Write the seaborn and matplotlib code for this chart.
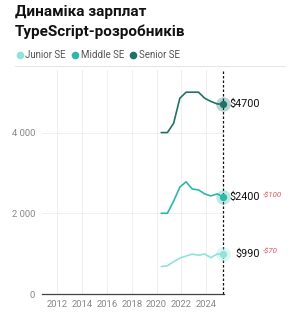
import pandas as pd
import matplotlib.pyplot as plt
import seaborn as sns
from matplotlib.lines import Line2D

# --- DATA ---
years = [2020.37, 2020.87, 2021.37, 2021.87, 2022.37, 2022.87,
         2023.37, 2023.87, 2024.37, 2024.87, 2025.37]
junior = [680, 700, 800, 890, 940, 990, 960, 990, 900, 990, 990]
middle = [2000, 2000, 2300, 2650, 2780, 2600, 2580, 2480, 2430, 2480, 2400]
senior = [4000, 4000, 4230, 4850, 5000, 5000, 5000, 4850, 4770, 4710, 4700]
levels = ["Junior SE", "Middle SE", "Senior SE"]
last_labels = ["$990", "$2400", "$4700"]
changes = ["-$70", "-$100", ""]
x_ticks = [2012, 2014, 2016, 2018, 2020, 2022, 2024]
y_ticks = [0, 2000, 4000]
y_tick_labels = ["0", "2 000", "4 000"]

colors = {"Junior SE": "#8fe3db", "Middle SE": "#2db8a8", "Senior SE": "#1f7366"}

rows = []
for name, vals in zip(levels, [junior, middle, senior]):
    for x, v in zip(years, vals):
        rows.append({"year": x, "salary": v, "level": name})
df = pd.DataFrame(rows)

# --- PLOT ---
sns.set_style("white")
plt.rcParams["font.family"] = ["Roboto", "DejaVu Sans"]

fig = plt.figure(figsize=(2.96, 3.2), dpi=100)
ax = fig.add_axes([42 / 296, 1 - 294 / 320, (224 - 42) / 296, (294 - 70) / 320])

sns.lineplot(data=df, x="year", y="salary", hue="level", palette=colors,
             linewidth=1.2, legend=False, ax=ax)

ax.set_xlim(2010.79, 2025.42)
ax.set_ylim(0, 5550)
ax.set_xticks(x_ticks)
ax.set_xticklabels([str(t) for t in x_ticks], fontsize=6.8, color="#888888")
ax.set_yticks(y_ticks)
ax.set_yticklabels(y_tick_labels, fontsize=6.8, color="#888888")
ax.tick_params(axis="both", length=0, pad=4)
ax.tick_params(axis="y", pad=5)
ax.set_xlabel("")
ax.set_ylabel("")
ax.grid(True, color="#ececec", linewidth=0.6)
for s in ["top", "right", "left"]:
    ax.spines[s].set_visible(False)
ax.spines["bottom"].set_color("#444444")
ax.spines["bottom"].set_linewidth(0.9)

# current-date marker
ax.axvline(years[-1], color="#111111", linestyle=(0, (2, 1.6)), linewidth=0.9,
           zorder=3, clip_on=False)

for name, vals, lab, ch in zip(levels, [junior, middle, senior], last_labels, changes):
    c = colors[name]
    ax.scatter([years[-1]], [vals[-1]], s=110, color=c, alpha=0.3, linewidth=0, zorder=4, clip_on=False)
    ax.scatter([years[-1]], [vals[-1]], s=28, color=c, linewidth=0, zorder=5, clip_on=False)
    ax.annotate(lab, (years[-1], vals[-1]), xytext=(37, 0), textcoords="offset pixels",
                ha="right", va="center", fontsize=7.8, color="#111111", annotation_clip=False)
    if ch:
        ax.annotate(ch, (years[-1], vals[-1]), xytext=(40, 2.5), textcoords="offset pixels",
                    ha="left", va="center", fontsize=5.6, color="#e0505a", style="italic",
                    annotation_clip=False)

# title
fig.text(15 / 296, 1 - 5 / 320, "Динаміка зарплат\nTypeScript-розробників",
         ha="left", va="top", fontsize=11, fontweight="bold", color="#111111",
         linespacing=1.5)

# legend
handles = [Line2D([], [], marker="o", linestyle="", markersize=5.5,
                  markerfacecolor=colors[n], markeredgewidth=0) for n in levels]
fig.legend(handles, levels, loc="center left", bbox_to_anchor=(7 / 296, 1 - 55 / 320),
           ncol=3, frameon=False, fontsize=7, labelcolor="#555555",
           handletextpad=0.2, columnspacing=0.5, handlelength=0.8)

# separator line under legend
fig.add_artist(Line2D([15 / 296, 285 / 296], [1 - 66 / 320, 1 - 66 / 320],
                      color="#e6e6e6", linewidth=0.8))

fig.savefig("out.png", dpi=100)
